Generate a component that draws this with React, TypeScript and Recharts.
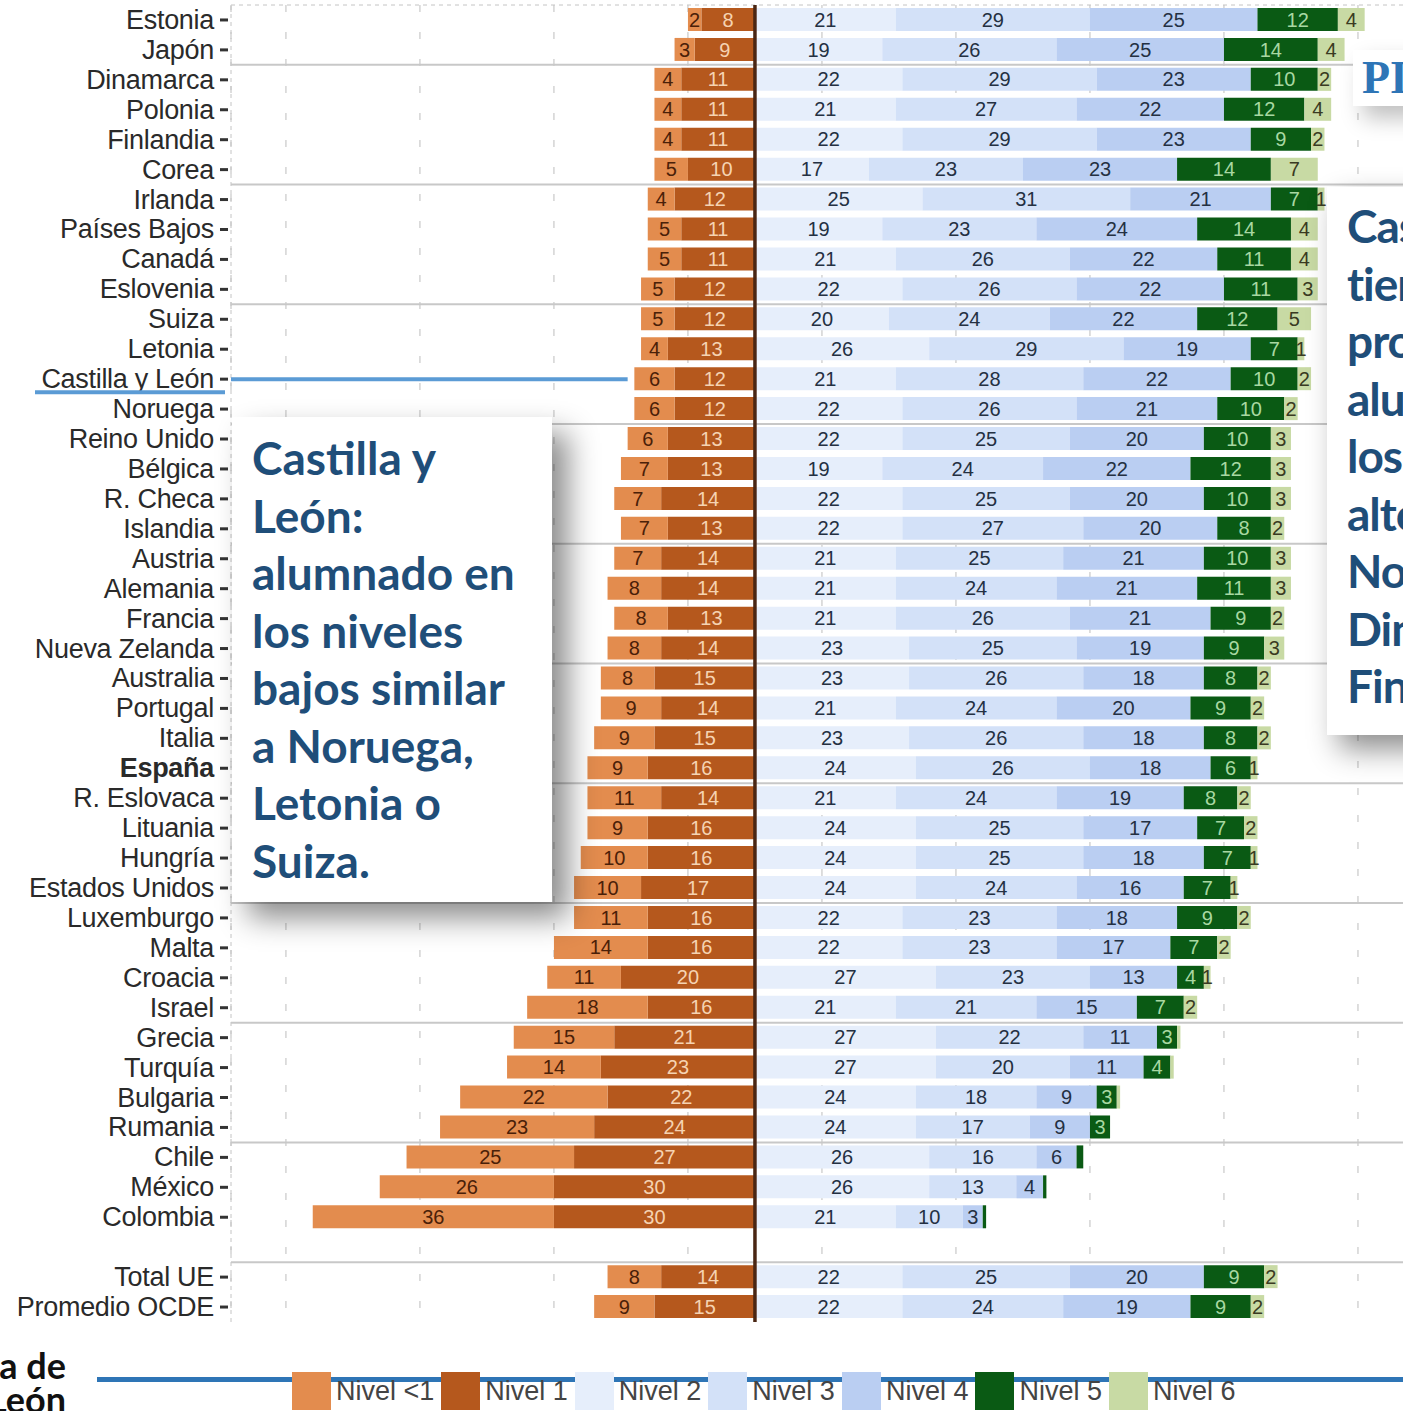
import React from 'react';
import { BarChart, Bar, XAxis, YAxis, CartesianGrid, ReferenceLine, LabelList } from 'recharts';

const countries = [
  'Estonia', 'Japón', 'Dinamarca', 'Polonia', 'Finlandia', 'Corea', 'Irlanda', 'Países Bajos',
  'Canadá', 'Eslovenia', 'Suiza', 'Letonia', 'Castilla y León', 'Noruega', 'Reino Unido', 'Bélgica',
  'R. Checa', 'Islandia', 'Austria', 'Alemania', 'Francia', 'Nueva Zelanda', 'Australia', 'Portugal',
  'Italia', 'España', 'R. Eslovaca', 'Lituania', 'Hungría', 'Estados Unidos', 'Luxemburgo', 'Malta',
  'Croacia', 'Israel', 'Grecia', 'Turquía', 'Bulgaria', 'Rumania', 'Chile', 'México', 'Colombia',
  ' ', 'Total UE', 'Promedio OCDE',
];

const nivelMenor1 = [2, 3, 4, 4, 4, 5, 4, 5, 5, 5, 5, 4, 6, 6, 6, 7, 7, 7, 7, 8, 8, 8, 8, 9, 9, 9, 11, 9, 10, 10, 11, 14, 11, 18, 15, 14, 22, 23, 25, 26, 36, null, 8, 9];
const nivel1 = [8, 9, 11, 11, 11, 10, 12, 11, 11, 12, 12, 13, 12, 12, 13, 13, 14, 13, 14, 14, 13, 14, 15, 14, 15, 16, 14, 16, 16, 17, 16, 16, 20, 16, 21, 23, 22, 24, 27, 30, 30, null, 14, 15];
const nivel2 = [21, 19, 22, 21, 22, 17, 25, 19, 21, 22, 20, 26, 21, 22, 22, 19, 22, 22, 21, 21, 21, 23, 23, 21, 23, 24, 21, 24, 24, 24, 22, 22, 27, 21, 27, 27, 24, 24, 26, 26, 21, null, 22, 22];
const nivel3 = [29, 26, 29, 27, 29, 23, 31, 23, 26, 26, 24, 29, 28, 26, 25, 24, 25, 27, 25, 24, 26, 25, 26, 24, 26, 26, 24, 25, 25, 24, 23, 23, 23, 21, 22, 20, 18, 17, 16, 13, 10, null, 25, 24];
const nivel4 = [25, 25, 23, 22, 23, 23, 21, 24, 22, 22, 22, 19, 22, 21, 20, 22, 20, 20, 21, 21, 21, 19, 18, 20, 18, 18, 19, 17, 18, 16, 18, 17, 13, 15, 11, 11, 9, 9, 6, 4, 3, null, 20, 19];
const nivel5 = [12, 14, 10, 12, 9, 14, 7, 14, 11, 11, 12, 7, 10, 10, 10, 12, 10, 8, 10, 11, 9, 9, 8, 9, 8, 6, 8, 7, 7, 7, 9, 7, 4, 7, 3, 4, 3, 3, 1, 0.5, 0.5, null, 9, 9];
const nivel6 = [4, 4, 2, 4, 2, 7, 1, 4, 4, 3, 5, 1, 2, 2, 3, 3, 3, 2, 3, 3, 2, 3, 2, 2, 2, 1, 2, 2, 1, 1, 2, 2, 1, 2, 0.5, 0.5, 0.5, 0, 0, 0, 0, null, 2, 2];

const levelNames = ['Nivel <1', 'Nivel 1', 'Nivel 2', 'Nivel 3', 'Nivel 4', 'Nivel 5', 'Nivel 6'];
const levelColors = ['#E38C4E', '#B5581D', '#E6EEFB', '#D3E1F8', '#BACEF2', '#0A5A14', '#C8DAA4'];
const labelColors = ['#4A2008', '#F5D3B2', '#243042', '#243042', '#243042', '#A8D8A2', '#3A3A22'];

const gridTicks = [-70, -50, -30, -10, 10, 30, 50, 70, 90];
const separatorRows = ['Dinamarca', 'Irlanda', 'Suiza', 'Reino Unido', 'Austria', 'Australia', 'R. Eslovaca', 'Luxemburgo', 'Grecia', 'Chile', 'Total UE'];
const highlighted = 'Castilla y León';
const boldRow = 'España';
const X_MIN = -78.2;
const X_MAX = 96.87;

const neg = (v: number | null) => (v == null ? null : -v);
const data = countries.map((name, i) => ({
  name,
  n1: neg(nivel1[i]),
  nlt1: neg(nivelMenor1[i]),
  n2: nivel2[i],
  n3: nivel3[i],
  n4: nivel4[i],
  n5: nivel5[i],
  n6: nivel6[i],
}));

const hiIdx = countries.indexOf(highlighted);
const hiEnd = -((nivelMenor1[hiIdx] as number) + (nivel1[hiIdx] as number)) - 1;

const fmt = (min: number) => (v: any) => {
  if (v == null) return '';
  const a = Math.abs(Number(v));
  return a < min ? '' : String(Math.round(a));
};

const CountryTick = (props: any) => {
  const { x, y, payload } = props;
  const name = String(payload.value);
  if (!name.trim()) return null;
  return (
    <g>
      <line x1={x - 11} x2={x - 3} y1={y} y2={y} stroke="#333" strokeWidth={3} />
      <text
        x={x - 17}
        y={y}
        textAnchor="end"
        dominantBaseline="central"
        fontSize={27}
        fontFamily="'Liberation Sans', Arial, sans-serif"
        fontWeight={name === boldRow ? 700 : 400}
        fill="#2a2a2a"
        letterSpacing={-0.3}
      >
        {name}
      </text>
      {name === highlighted && (
        <line x1={35} x2={x - 6} y1={y + 13} y2={y + 13} stroke="#5B9BD5" strokeWidth={4} />
      )}
    </g>
  );
};

const seriesKeys = ['n1', 'nlt1', 'n2', 'n3', 'n4', 'n5', 'n6'];
const seriesLevelIdx = [1, 0, 2, 3, 4, 5, 6];
const labelMin = [1, 1, 1, 1, 1, 1.5, 1];

const noteFont = "Lato, 'Open Sans', sans-serif";

export default function App() {
  return (
    <div style={{ position: 'absolute', left: 0, top: 0, width: 1403, height: 1411, overflow: 'hidden', background: '#fff' }}>
      <div style={{ position: 'absolute', left: 0, top: 0 }}>
        <BarChart
          width={1404}
          height={1330}
          data={data}
          layout="vertical"
          stackOffset="sign"
          barSize={23}
          margin={{ top: 5, right: 0, bottom: 8, left: 0 }}
        >
          <CartesianGrid horizontal={false} vertical={true} stroke="#bdbdbd" strokeDasharray="7 20" />
          <XAxis type="number" domain={[X_MIN, X_MAX]} allowDataOverflow ticks={gridTicks} hide />
          <YAxis
            type="category"
            dataKey="name"
            width={231}
            axisLine={false}
            tickLine={false}
            tickSize={0}
            tickMargin={0}
            interval={0}
            tick={<CountryTick />}
          />
          <ReferenceLine x={X_MIN} stroke="#c4c4c4" strokeDasharray="4 4" />
          <ReferenceLine y={countries[0]} position="start" stroke="#c4c4c4" strokeDasharray="4 4" />
          {separatorRows.map((r) => (
            <ReferenceLine key={r} y={r} position="start" stroke="#c8c8c8" strokeWidth={2} />
          ))}
          {seriesKeys.map((k, si) => {
            const li = seriesLevelIdx[si];
            return (
              <Bar key={k} dataKey={k} name={levelNames[li]} stackId="s" fill={levelColors[li]} isAnimationActive={false}>
                <LabelList
                  dataKey={k}
                  position="center"
                  formatter={fmt(labelMin[si])}
                  fill={labelColors[li]}
                  fontSize={20}
                  fontFamily="'Liberation Sans', Arial, sans-serif"
                />
              </Bar>
            );
          })}
          <ReferenceLine x={0} stroke="#4a2613" strokeWidth={3.5} />
          <ReferenceLine
            segment={[{ x: X_MIN, y: highlighted }, { x: hiEnd, y: highlighted }]}
            stroke="#5B9BD5"
            strokeWidth={4}
          />
        </BarChart>
      </div>

      {/* Left note */}
      <div
        style={{
          position: 'absolute', left: 232, top: 417, width: 320, height: 485, background: '#fff',
          boxShadow: '16px 16px 28px rgba(0,0,0,0.45)', boxSizing: 'border-box', padding: '12px 0 0 20px',
          fontFamily: noteFont, fontWeight: 700, fontSize: 46, lineHeight: '57.5px', color: '#1F4E79',
        }}
      >
        {['Castilla y', 'León:', 'alumnado en', 'los niveles', 'bajos similar', 'a Noruega,', 'Letonia o', 'Suiza.'].map((l) => (
          <div key={l} style={{ whiteSpace: 'nowrap' }}>{l}</div>
        ))}
      </div>

      {/* Right note (cut by the page edge) */}
      <div
        style={{
          position: 'absolute', left: 1327, top: 187, width: 420, height: 548, background: '#fff',
          boxShadow: '12px 14px 28px rgba(0,0,0,0.45)', boxSizing: 'border-box', padding: '10px 0 0 20px',
          fontFamily: noteFont, fontWeight: 700, fontSize: 46, lineHeight: '57.5px', color: '#1F4E79',
          letterSpacing: -1,
        }}
      >
        {['Castilla y León', 'tiene una', 'proporción de', 'alumnado en', 'los niveles', 'altos similar a', 'Noruega,', 'Dinamarca o', 'Finlandia.'].map((l) => (
          <div key={l} style={{ whiteSpace: 'nowrap' }}>{l}</div>
        ))}
      </div>

      {/* Top-right title fragment */}
      <div
        style={{
          position: 'absolute', left: 1353, top: 50, width: 120, height: 56, background: '#fff',
          boxShadow: '10px 12px 22px rgba(0,0,0,0.25)', paddingLeft: 9, boxSizing: 'border-box',
          fontFamily: "'Liberation Serif', 'DejaVu Serif', serif", fontWeight: 700, fontSize: 46, lineHeight: '56px',
          color: '#2E75B6', whiteSpace: 'nowrap',
        }}
      >
        PISA 2018
      </div>

      {/* Bottom-left institution text */}
      <div
        style={{
          position: 'absolute', right: 1403 - 66, top: 1348, textAlign: 'right', whiteSpace: 'nowrap',
          fontFamily: noteFont, fontWeight: 700, fontSize: 36, lineHeight: '34px', color: '#111',
        }}
      >
        <div>Junta de</div>
        <div>Castilla y León</div>
      </div>

      {/* Bottom blue rule */}
      <div style={{ position: 'absolute', left: 97, top: 1377, width: 1320, height: 5, background: '#2E75B6' }} />

      {/* Legend */}
      <div style={{ position: 'absolute', left: 292, top: 1372, display: 'flex', alignItems: 'center' }}>
        {levelNames.map((n, i) => (
          <div key={n} style={{ display: 'flex', alignItems: 'center' }}>
            <div style={{ width: 39, height: 38, background: levelColors[i], marginRight: 5 }} />
            <div
              style={{
                fontFamily: "'Liberation Sans', Arial, sans-serif", fontSize: 27, color: '#444',
                marginRight: 7, lineHeight: '38px',
              }}
            >
              {n}
            </div>
          </div>
        ))}
      </div>
    </div>
  );
}
